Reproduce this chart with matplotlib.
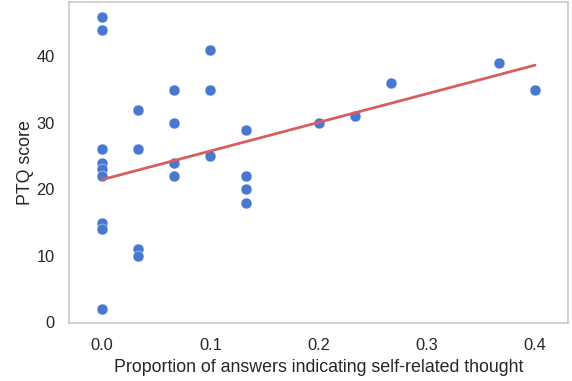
import numpy as np
import matplotlib.pyplot as plt
import seaborn as sns

# proportion of answers indicating self-related thought vs PTQ score
prop = [0.0, 0.0, 0.0, 0.0, 0.0, 0.0, 0.0, 0.0, 0.0,
        1/30, 1/30, 1/30, 1/30,
        2/30, 2/30, 2/30, 2/30,
        0.1, 0.1, 0.1,
        4/30, 4/30, 4/30, 4/30,
        0.2, 7/30, 8/30, 11/30, 0.4]
ptq = [46, 44, 26, 24, 23, 22, 15, 14, 2,
       32, 26, 11, 10,
       35, 30, 24, 22,
       41, 35, 25,
       29, 22, 20, 18,
       30, 31, 36, 39, 35]

# regression line
fit_intercept = 21.45
fit_slope = 43.1

sns.set_theme(style="white")
plt.rcParams["font.family"] = ["Liberation Sans", "DejaVu Sans"]

x = np.array(prop)
y = np.array(ptq)

fig = plt.figure(figsize=(5.72, 3.81), dpi=100)
ax = fig.add_axes([0.1215, 0.151, 0.8708, 0.8438])
ax.scatter(x, y, s=62, color="#4878d0", edgecolor="white", linewidth=0.3, zorder=2)
ax.plot(x, fit_intercept + fit_slope * x, color="#d65f5f", linewidth=2, zorder=3)

ax.set_xlim(-0.03, 0.43)
ax.set_ylim(-0.2, 48.2)
ax.set_xticks([0.0, 0.1, 0.2, 0.3, 0.4])
ax.set_yticks([0, 10, 20, 30, 40])
ax.tick_params(labelsize=11.8, length=0, pad=10.5)
ax.set_xlabel("Proportion of answers indicating self-related thought", fontsize=12.8, labelpad=4.5)
ax.set_ylabel("PTQ score", fontsize=12.8, labelpad=2)
for s in ax.spines.values():
    s.set_color("#cccccc")
    s.set_linewidth(1.25)

fig.savefig("out.png", dpi=100)
